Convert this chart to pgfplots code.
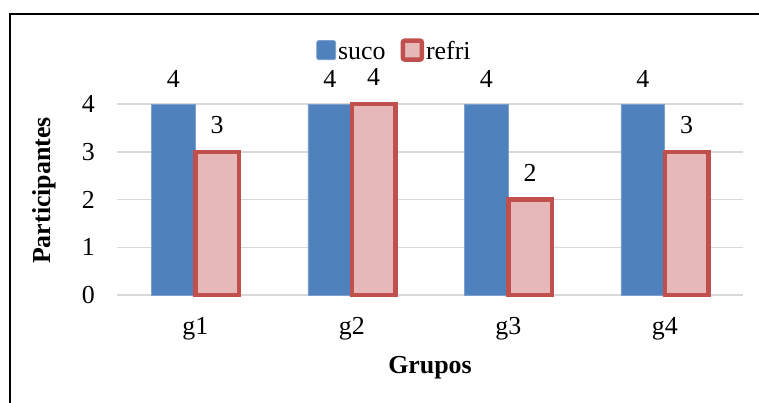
\documentclass[border=0pt]{standalone}
\usepackage{pgfplots}
\pgfplotsset{compat=1.18}
\usepackage{fontspec}
\setmainfont{Liberation Serif}
\definecolor{sucoblue}{HTML}{4F81BD}
\definecolor{refried}{HTML}{C0504D}
\definecolor{refrifill}{HTML}{E6B9B8}
\definecolor{gridgray}{HTML}{D9D9D9}
\begin{document}
\begin{tikzpicture}
\useasboundingbox (0,0) rectangle (759bp,403bp);
\draw[line width=2bp] (10bp,-5bp) -- (10bp,389bp) -- (765bp,389bp);
\begin{axis}[
 at={(117bp,108bp)}, anchor=south west,
 scale only axis, width=626bp, height=191bp,
 xmin=-0.5, xmax=3.5, ymin=0, ymax=4,
 clip=false,
 ybar=0pt, bar width=0.28,
 xtick={0,1,2,3}, xticklabels={g1,g2,g3,g4},
 ytick={0,1,2,3,4},
 axis line style={draw=none},
 major tick length=0pt,
 ymajorgrids, grid style={gridgray, line width=1.5bp},
 font=\fontsize{26}{30}\selectfont,
 /pgf/number format/assume math mode=true,
 xticklabel style={anchor=base, yshift=-39bp, inner sep=0pt},
 yticklabel style={anchor=east, xshift=-22bp, inner sep=0pt},
 xlabel={\textbf{Grupos}},
 xlabel style={at={(rel axis cs:0.5,0)}, anchor=base, yshift=-78bp},
 ylabel={\textbf{Participantes}},
 ylabel style={at={(rel axis cs:-0.1166,0.547)}, anchor=center},
 legend style={at={(rel axis cs:0.4425,1)}, anchor=center, yshift=52bp,
   draw=none, fill=none, legend columns=2,
   nodes={inner sep=1bp, text height=18bp, text depth=5bp},
   /tikz/every odd column/.append style={column sep=1bp},
   /tikz/every even column/.append style={column sep=14bp}},
 legend image code/.code={\draw[#1, rounded corners=2bp] (0bp,-6.5bp) rectangle (19bp,12.5bp);},
 nodes near coords,
 nodes near coords style={text=black, inner sep=0pt, yshift=16bp, font=\fontsize{26}{30}\selectfont},
]
\addplot[fill=sucoblue, draw=sucoblue!75!white, line width=0.8bp] coordinates {(0,4) (1,4) (2,4) (3,4)};
\addplot[fill=refrifill, draw=refried, line width=4.5bp] coordinates {(0,3) (1,4) (2,2) (3,3)};
\legend{suco, refri}
\end{axis}
\end{tikzpicture}
\end{document}
